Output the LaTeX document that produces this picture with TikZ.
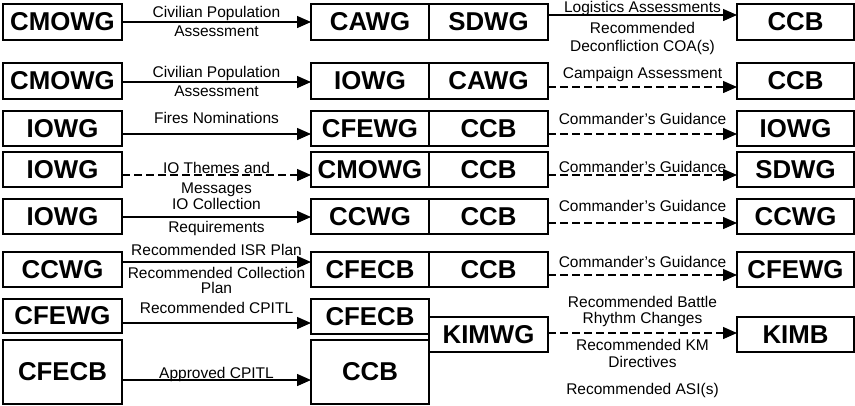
\documentclass[tikz,border=0pt]{standalone}
\usepackage{fontspec}
\setmainfont{Liberation Sans}
\usetikzlibrary{arrows.meta}
\begin{document}
\begin{tikzpicture}[x=1pt,y=-1pt,
  box/.style={draw, line width=1.4pt, inner sep=0pt, outer sep=0pt, font=\bfseries\fontsize{25.8}{30}\selectfont},
  lbl/.style={inner sep=0pt, anchor=base, font=\fontsize{15.5}{18}\selectfont},
  arr/.style={line width=1.4pt, -{Triangle[length=14pt,width=12pt]}},
  dsh/.style={arr, dash pattern=on 8pt off 4pt},
  wl/.style={minimum width=119pt},
  wm/.style={minimum width=118pt},
  wr/.style={minimum width=117pt},
  hs/.style={minimum height=35pt},
  ht/.style={minimum height=36pt},
  hb/.style={minimum height=64pt}]
\useasboundingbox (0,0) rectangle (855,405);
% row 1
\node[box,wl,ht] (L1) at (62.5,22) {CMOWG};
\node[box,wm,ht] (A1) at (370,22) {CAWG};
\node[box,wl,ht] (B1) at (488.5,22) {SDWG};
\node[box,wr,ht] (R1) at (795.5,22) {CCB};
% row 2
\node[box,wl,ht] (L2) at (62.5,81) {CMOWG};
\node[box,wm,ht] (A2) at (370,81) {IOWG};
\node[box,wl,ht] (B2) at (488.5,81) {CAWG};
\node[box,wr,ht] (R2) at (795.5,81) {CCB};
% row 3
\node[box,wl,hs] (L3) at (62.5,128.5) {IOWG};
\node[box,wm,hs] (A3) at (370,128.5) {CFEWG};
\node[box,wl,hs] (B3) at (488.5,128.5) {CCB};
\node[box,wr,hs] (R3) at (795.5,128.5) {IOWG};
% row 4
\node[box,wl,hs] (L4) at (62.5,169.5) {IOWG};
\node[box,wm,hs] (A4) at (370,169.5) {CMOWG};
\node[box,wl,hs] (B4) at (488.5,169.5) {CCB};
\node[box,wr,hs] (R4) at (795.5,169.5) {SDWG};
% row 5
\node[box,wl,hs] (L5) at (62.5,216.5) {IOWG};
\node[box,wm,hs] (A5) at (370,216.5) {CCWG};
\node[box,wl,hs] (B5) at (488.5,216.5) {CCB};
\node[box,wr,hs] (R5) at (795.5,216.5) {CCWG};
% row 6
\node[box,wl,hs] (L6) at (62.5,269.5) {CCWG};
\node[box,wm,hs] (A6) at (370,269.5) {CFECB};
\node[box,wl,hs] (B6) at (488.5,269.5) {CCB};
\node[box,wr,hs] (R6) at (795.5,269.5) {CFEWG};
% row 7 / 8
\node[box,wl,minimum height=34pt] (L7) at (62.5,316) {CFEWG};
\node[box,wm,hs] (A7) at (370,316.5) {CFECB};
\node[box,wl,hb] (L8) at (62.5,372) {CFECB};
\node[box,wm,hb] (A8) at (370,372) {CCB};
\node[box,wl,hs] (K1) at (488.5,334.5) {KIMWG};
\node[box,wr,hs] (K2) at (795.5,334.5) {KIMB};

% connectors
\draw[arr] (L1.east |- 0,22) -- (A1.west |- 0,22);
\draw[arr] (B1.east |- 0,15) -- (R1.west |- 0,15);
\draw[arr] (L2.east |- 0,82) -- (A2.west |- 0,82);
\draw[dsh] (B2.east |- 0,87) -- (R2.west |- 0,87);
\draw[arr] (L3.east |- 0,134) -- (A3.west |- 0,134);
\draw[dsh] (B3.east |- 0,134) -- (R3.west |- 0,134);
\draw[dsh] (L4.east |- 0,175) -- (A4.west |- 0,175);
\draw[dsh] (B4.east |- 0,175) -- (R4.west |- 0,175);
\draw[arr] (L5.east |- 0,217) -- (A5.west |- 0,217);
\draw[dsh] (B5.east |- 0,223) -- (R5.west |- 0,223);
\draw[arr] (L6.east |- 0,262) -- (A6.west |- 0,262);
\draw[dsh] (B6.east |- 0,275) -- (R6.west |- 0,275);
\draw[arr] (L7.east |- 0,323) -- (A7.west |- 0,323);
\draw[arr] (L8.east |- 0,380) -- (A8.west |- 0,380);
\draw[dsh] (K1.east |- 0,333) -- (K2.west |- 0,333);

% labels
\node[lbl] (t1a) at (216.5,17) {Civilian Population};
\node[lbl] (t1b) at (216.5,36) {Assessment};
\node[lbl] (u1a) at (642.5,12) {Logistics Assessments};
\node[lbl] (u1b) at (642.5,33) {Recommended};
\node[lbl] (u1c) at (642.5,51) {Deconfliction COA(s)};
\node[lbl] (t2a) at (216.5,77) {Civilian Population};
\node[lbl] (t2b) at (216.5,96) {Assessment};
\node[lbl] (u2) at (642.5,78) {Campaign Assessment};
\node[lbl] (t3) at (216.5,123) {Fires Nominations};
\node[lbl] (u3) at (642.5,124) {Commander's Guidance};
\node[lbl] (t4a) at (216.5,173) {IO Themes and};
\node[lbl] (t4b) at (216.5,193) {Messages};
\node[lbl] (u4) at (642.5,172) {Commander's Guidance};
\node[lbl] (t5a) at (216.5,209) {IO Collection};
\node[lbl] (t5b) at (216.5,232) {Requirements};
\node[lbl] (u5) at (642.5,211) {Commander's Guidance};
\node[lbl] (t6a) at (216.5,255) {Recommended ISR Plan};
\node[lbl] (t6b) at (216.5,278) {Recommended Collection};
\node[lbl] (t6c) at (216.5,293) {Plan};
\node[lbl] (u6) at (642.5,267) {Commander's Guidance};
\node[lbl] (t7) at (216.5,313) {Recommended CPITL};
\node[lbl] (t8) at (216.5,378) {Approved CPITL};
\node[lbl] (k1) at (642.5,307) {Recommended Battle};
\node[lbl] (k2) at (642.5,323) {Rhythm Changes};
\node[lbl] (k3) at (642.5,350) {Recommended KM};
\node[lbl] (k4) at (642.5,367) {Directives};
\node[lbl] (k5) at (642.5,394) {Recommended ASI(s)};
\end{tikzpicture}
\end{document}
